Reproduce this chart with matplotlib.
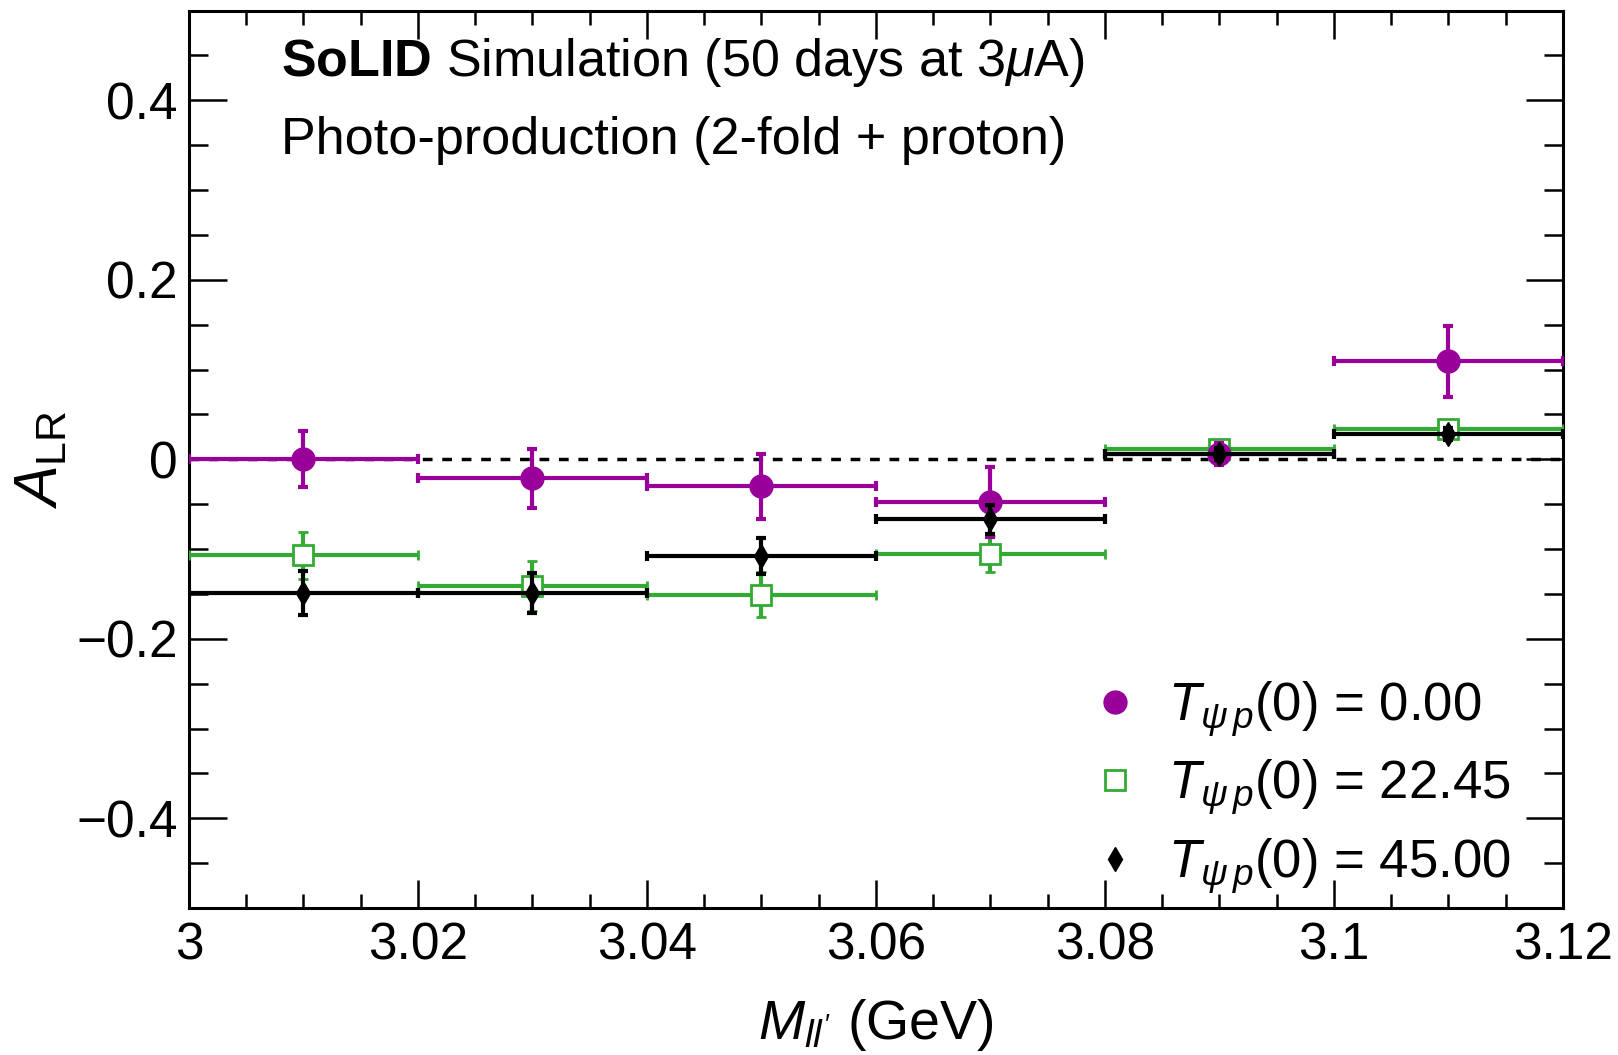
import matplotlib
matplotlib.use("Agg")
import matplotlib.pyplot as plt
from matplotlib.ticker import MultipleLocator, FixedLocator

plt.rcParams['font.family'] = ['Liberation Sans', 'DejaVu Sans']
plt.rcParams['mathtext.fontset'] = 'custom'
plt.rcParams['mathtext.rm'] = 'Liberation Sans'
plt.rcParams['mathtext.it'] = 'Liberation Sans:italic'
plt.rcParams['mathtext.bf'] = 'Liberation Sans:bold'

# Data
bin_centers = [3.01, 3.03, 3.05, 3.07, 3.09, 3.11]
bin_halfwidth = 0.01

purple_y = [0.000, -0.021, -0.030, -0.048, 0.006, 0.109]
purple_err = [0.031, 0.033, 0.036, 0.039, 0.012, 0.040]

green_y = [-0.107, -0.141, -0.151, -0.106, 0.011, 0.034]
green_err = [0.026, 0.028, 0.025, 0.020, 0.008, 0.008]

black_y = [-0.149, -0.149, -0.108, -0.067, 0.006, 0.028]
black_err = [0.025, 0.022, 0.020, 0.016, 0.007, 0.007]

labels = [r"$\mathit{T}_{\psi\, p}(0)$ = 0.00",
          r"$\mathit{T}_{\psi\, p}(0)$ = 22.45",
          r"$\mathit{T}_{\psi\, p}(0)$ = 45.00"]

x_ticks = [3.0, 3.02, 3.04, 3.06, 3.08, 3.10, 3.12]
x_ticklabels = ["3", "3.02", "3.04", "3.06", "3.08", "3.1", "3.12"]
y_ticks = [-0.4, -0.2, 0.0, 0.2, 0.4]
y_ticklabels = ["\u22120.4", "\u22120.2", "0", "0.2", "0.4"]

purple = '#990099'
green = '#33aa33'
black = '#000000'

fig = plt.figure(figsize=(16.18, 10.55), dpi=100)
ax = fig.add_axes([0.1168, 0.1393, 0.966 - 0.1168, 0.990 - 0.1393])

ax.axhline(0, color='black', lw=2.5, ls=(0, (2.8, 2.8)), zorder=1)

xerr = [bin_halfwidth] * len(bin_centers)
h_green = ax.errorbar(bin_centers, green_y, xerr=xerr, yerr=green_err, fmt='s',
                      color=green, mfc='white', mec=green, mew=2.0, ms=15,
                      elinewidth=3, capsize=3.5, capthick=3, zorder=3)
h_purple = ax.errorbar(bin_centers, purple_y, xerr=xerr, yerr=purple_err, fmt='o',
                       color=purple, mfc=purple, mec=purple, ms=16.5,
                       elinewidth=3, capsize=3.5, capthick=3, zorder=4)
h_black = ax.errorbar(bin_centers, black_y, xerr=xerr, yerr=black_err, fmt='d',
                      color=black, mfc=black, mec=black, ms=12,
                      elinewidth=3, capsize=3.5, capthick=3, zorder=5)

ax.set_xlim(3.0, 3.12)
ax.set_ylim(-0.5, 0.5)

ax.xaxis.set_major_locator(FixedLocator(x_ticks))
ax.set_xticklabels(x_ticklabels)
ax.xaxis.set_minor_locator(MultipleLocator(0.005))
ax.yaxis.set_major_locator(FixedLocator(y_ticks))
ax.set_yticklabels(y_ticklabels)
ax.yaxis.set_minor_locator(MultipleLocator(0.05))

ax.tick_params(axis='both', which='both', direction='in', top=True, right=True,
               width=1.8, labelsize=37)
ax.tick_params(axis='x', which='major', length=20, pad=10)
ax.tick_params(axis='x', which='minor', length=10)
ax.tick_params(axis='y', which='major', length=27, pad=8)
ax.tick_params(axis='y', which='minor', length=14)
for s in ax.spines.values():
    s.set_linewidth(2.2)

ax.set_xlabel(r"$\mathit{M}_{ll'}$ (GeV)", fontsize=40, labelpad=19)
ax.set_ylabel(r"$\mathit{A}_{\mathrm{LR}}$", fontsize=44, labelpad=4)

ax.text(0.067, 0.942, r"$\mathbf{SoLID}$ Simulation (50 days at 3$\mu$A)",
        transform=ax.transAxes, fontsize=37.5, va='center', ha='left')
ax.text(0.067, 0.855, "Photo-production (2-fold + proton)",
        transform=ax.transAxes, fontsize=37.5, va='center', ha='left')

leg = ax.legend([h_purple[0], h_green[0], h_black[0]], labels,
                loc='lower right', bbox_to_anchor=(0.977, -0.01),
                frameon=False, fontsize=38, handlelength=0.8,
                handletextpad=0.6, labelspacing=0.36,
                borderaxespad=0.0)

fig.savefig("out.png", dpi=100)
